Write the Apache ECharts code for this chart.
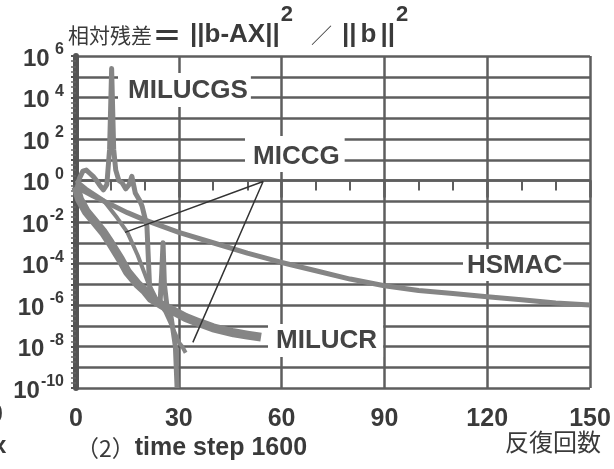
<!DOCTYPE html>
<html>
<head>
<meta charset="utf-8">
<script src="https://cdn.jsdelivr.net/npm/echarts@6/dist/echarts.min.js"></script>
<style>
  html, body { margin: 0; padding: 0; background: #fff; }
  #chart { width: 614px; height: 469px; }
</style>
</head>
<body>
<div id="chart"></div>
<script>
// residual values are stored as log10 exponents
const hsmacX = [0, 5, 10, 15, 20, 25, 30, 40, 50, 60, 70, 80, 90, 100, 110, 120, 130, 140, 150];
const hsmacY = [-0.3, -0.75, -1.15, -1.55, -1.9, -2.2, -2.5, -3.0, -3.5, -3.95, -4.35, -4.75, -5.07, -5.3, -5.45, -5.6, -5.75, -5.9, -6.0];

const milucgsX = [0, 1, 2, 3, 4, 5, 6, 7, 8, 9, 9.8, 10.4, 11, 11.6, 12.5, 13.4, 14.5, 15.5, 16.3, 17.3, 18.7, 19.3, 20.7, 21.6, 23, 24.5, 25, 25.4, 25.8, 26.5, 27.4, 28.3, 29, 29.5];
const milucgsY = [-0.6, 0.1, 0.45, 0.5, 0.35, 0.2, 0, -0.25, -0.45, -0.2, 1.5, 5.4, 1.5, 0.5, 0, -0.1, -0.4, -0.2, 0.2, -0.6, -1.0, -1.25, -2.2, -5.6, -5.9, -6.0, -4.5, -3.0, -5.0, -6.0, -6.2, -7.2, -8.0, -10];

const miccgX = [0, 3, 8, 12, 15, 18, 21, 23.6, 26, 27.4, 29, 30, 31, 32];
const miccgY = [0, -0.4, -0.95, -1.8, -2.5, -3.6, -4.9, -5.75, -6.3, -6.8, -7.4, -7.8, -8.0, -8.3];

const milucrX = [0, 1, 3, 5, 8, 10, 13, 15, 18, 20, 22, 25, 28, 32, 36, 40, 46, 50, 54];
const milucrY = [-0.3, -0.9, -1.5, -1.9, -2.5, -3.0, -3.8, -4.4, -5.0, -5.3, -5.7, -6.0, -6.25, -6.6, -6.86, -7.1, -7.34, -7.45, -7.55];

// pointer from the MICCG label to its two curves
const pointerX = [14.3, 54.6, 34.1];
const pointerY = [-2.5, -0.05, -7.8];

const xTicks = [0, 150, 30];
const yTicks = [-10, 6, 1];
// exponent text shown next to "10" for every second decade
const yExpLabels = { 6: ' 6', 4: ' 4', 2: ' 2', 0: ' 0', '-2': '-2', '-4': '-4', '-6': ' -6', '-8': ' -8', '-10': '-10' };

const chart = echarts.init(document.getElementById('chart'));

const ink = '#3a3a3a';
const gridColor = '#5e5e5e';
const curveColor = '#858585';
const numFont = 'Liberation Sans';
const cjkFont = 'Noto Sans CJK JP';

function zipPoints(xs, ys) {
  return xs.map((x, i) => [x, ys[i]]);
}

function curve(name, xs, ys, width) {
  return {
    name,
    type: 'line',
    data: zipPoints(xs, ys),
    symbol: 'none',
    lineStyle: { color: curveColor, width, cap: 'butt', join: 'round' },
    z: 3,
  };
}

function labelBox(text, left, top, padding) {
  return {
    type: 'text',
    left,
    top,
    z: 10,
    style: {
      text,
      fill: '#444',
      font: `bold 26px "${numFont}"`,
      lineHeight: 26,
      backgroundColor: '#fff',
      padding,
    },
  };
}

const option = {
  animation: false,
  backgroundColor: '#fff',
  grid: { left: 76, right: 24, top: 56, bottom: 81 },
  xAxis: {
    type: 'value',
    min: xTicks[0],
    max: xTicks[1],
    interval: xTicks[2],
    axisLine: { lineStyle: { color: gridColor, width: 2.5 } },
    axisTick: { length: 17, lineStyle: { color: gridColor, width: 2.5 } },
    minorTick: { show: true, splitNumber: 3, length: 10, lineStyle: { color: gridColor, width: 2 } },
    splitLine: { show: true, lineStyle: { color: gridColor, width: 2.5 } },
    axisLabel: { margin: 19, fontSize: 25, fontWeight: 'bold', color: ink, fontFamily: numFont },
  },
  yAxis: {
    type: 'value',
    min: yTicks[0],
    max: yTicks[1],
    interval: yTicks[2],
    axisLine: { lineStyle: { color: '#555', width: 6 } },
    axisTick: { length: 5, lineStyle: { color: '#555', width: 2 } },
    minorTick: { show: true, splitNumber: 4, length: 5, lineStyle: { color: '#666', width: 1.5 } },
    splitLine: { show: true, lineStyle: { color: gridColor, width: 2.5 } },
    axisLabel: {
      margin: 12,
      color: ink,
      formatter(v) {
        const exp = yExpLabels[v];
        return exp === undefined ? '' : `{b|10}{s|${exp}}`;
      },
      rich: {
        b: { fontSize: 24, fontWeight: 'bold', fontFamily: numFont, color: ink, padding: [6, 0, 0, 0] },
        s: { fontSize: 16, fontWeight: 'bold', fontFamily: numFont, color: ink, padding: [0, 0, 12, 1] },
      },
    },
  },
  series: [
    curve('HSMAC', hsmacX, hsmacY, 5),
    curve('MICCG', miccgX, miccgY, 4),
    curve('MILUCGS', milucgsX, milucgsY, 5),
    curve('MILUCR', milucrX, milucrY, 9),
    {
      name: 'pointer',
      type: 'line',
      data: zipPoints(pointerX, pointerY),
      symbol: 'none',
      lineStyle: { color: '#333', width: 1.5 },
      z: 4,
    },
  ],
  graphic: [
    labelBox('MILUCGS', 118, 73, [5, 3, 3, 10]),
    labelBox('MICCG', 245, 136, [8, 5, 2, 8]),
    labelBox('HSMAC', 463, 249, [4, 1, 2, 4]),
    labelBox('MILUCR', 268, 324, [4, 6, 3, 8]),
    {
      type: 'text',
      left: 68,
      top: 4,
      style: {
        text: '{c|相対残差}{e|＝}{m|||b-AX||}{s|2}{d|／}{m|||}{g|b}{m|||}{s|2}',
        rich: {
          c: { fontSize: 21, fontFamily: cjkFont, fill: ink, padding: [20, 0, 0, 0] },
          e: { fontSize: 30, fontWeight: 'bold', fontFamily: cjkFont, fill: ink, padding: [20, 8, 0, 0] },
          d: { fontSize: 21, fontFamily: cjkFont, fill: ink, padding: [20, 10, 0, 18] },
          m: { fontSize: 26, fontWeight: 'bold', fontFamily: numFont, fill: ink, padding: [20, 0, 0, 0] },
          g: { fontSize: 26, fontWeight: 'bold', fontFamily: numFont, fill: ink, padding: [20, 4, 0, 4] },
          s: { fontSize: 22, fontWeight: 'bold', fontFamily: numFont, fill: ink, padding: [0, 0, 20, 1] },
        },
      },
    },
    {
      type: 'text',
      left: 76,
      top: 436,
      style: {
        text: '{c|（2）}{m|time step 1600}',
        rich: {
          c: { fontSize: 23, fontFamily: cjkFont, fill: ink },
          m: { fontSize: 25, fontWeight: 'bold', fontFamily: numFont, fill: ink },
        },
      },
    },
    {
      type: 'text',
      left: 505,
      top: 430,
      style: { text: '反復回数', fill: ink, font: `24px "${cjkFont}"` },
    },
    {
      type: 'text',
      left: -11,
      top: 403,
      style: { text: '0', fill: ink, font: `bold 25px "${numFont}"` },
    },
    {
      type: 'text',
      left: -7,
      top: 434,
      style: { text: 'x', fill: ink, font: `bold 24px "${numFont}"` },
    },
  ],
};

chart.setOption(option);
</script>
</body>
</html>
